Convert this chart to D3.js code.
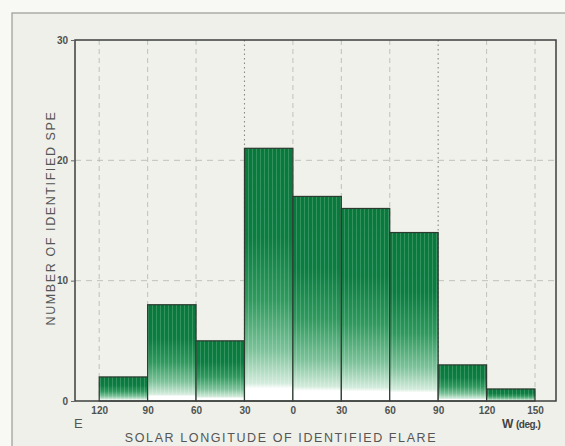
<!DOCTYPE html>
<html>
<head>
<meta charset="utf-8">
<script src="https://cdn.jsdelivr.net/npm/d3@7"></script>
<style>
  html, body { margin: 0; padding: 0; background: #f8f8f5; }
  svg { display: block; }
  text { font-family: "Liberation Sans", Arial, sans-serif; }
</style>
</head>
<body>
<svg id="chart" width="565" height="446"></svg>
<script>
// Histogram bins: solar longitude of the flare (degrees, east negative)
const binStarts = [-120, -90, -60, -30, 0, 30, 60, 90, 120];
const binWidth = 30;
const counts = [2, 8, 5, 21, 17, 16, 14, 3, 1];

// Axis ticks
const xTickValues = [-120, -90, -60, -30, 0, 30, 60, 90, 120, 150];
const xTickLabels = ["120", "90", "60", "30", "0", "30", "60", "90", "120", "150"];
const yTickValues = [0, 10, 20, 30];
const yTickLabels = ["0", "10", "20", "30"];
// Longitudes marked with the dense dotted lines
const dottedLongitudes = [-30, 90];

const svg = d3.select("#chart");
const W = 565, H = 446;
const plot = { left: 75, top: 40, right: 556, bottom: 401 };

const x = d3.scaleLinear().domain([-135, 163]).range([plot.left, plot.right]);
const y = d3.scaleLinear().domain([0, 30]).range([plot.bottom, plot.top]);

// Outer panel
svg.append("rect").attr("x", 12).attr("y", 13).attr("width", W).attr("height", H)
  .attr("fill", "#eef0e9").attr("stroke", "#9a9a96").attr("stroke-width", 1.2);

// Plot background
svg.append("rect").attr("x", plot.left).attr("y", plot.top)
  .attr("width", plot.right - plot.left).attr("height", plot.bottom - plot.top)
  .attr("fill", "#eff1ea");

// Gradient for the bars: deep green at the top fading out toward the base
const defs = svg.append("defs");
const grad = defs.append("linearGradient").attr("id", "barFill")
  .attr("x1", 0).attr("y1", 0).attr("x2", 0).attr("y2", 1);
[[0, "#07793b", 1], [0.35, "#0a7d40", 1], [0.6, "#2f9a5e", 1],
 [0.8, "#7cc39a", 1], [0.93, "#d3ecdc", 1], [0.95, "#ffffff", 1], [1, "#ffffff", 1]]
  .forEach(([o, c, a]) => grad.append("stop").attr("offset", o).attr("stop-color", c).attr("stop-opacity", a));

// Fine vertical screen texture
const pat = defs.append("pattern").attr("id", "screen").attr("patternUnits", "userSpaceOnUse")
  .attr("width", 4).attr("height", 4);
pat.append("rect").attr("x", 0).attr("y", 0).attr("width", 1).attr("height", 4)
  .attr("fill", "#ffffff").attr("opacity", 0.18);

// Grid
const grid = svg.append("g");
xTickValues.forEach(v => {
  const dotted = dottedLongitudes.includes(v);
  grid.append("line")
    .attr("x1", x(v)).attr("x2", x(v)).attr("y1", plot.top).attr("y2", plot.bottom)
    .attr("stroke", dotted ? "#8a8a86" : "#b4b6b0")
    .attr("stroke-width", dotted ? 1.1 : 0.8)
    .attr("stroke-dasharray", dotted ? "1.5,3" : "5,4");
});
[10, 20].forEach(v => {
  grid.append("line")
    .attr("x1", plot.left).attr("x2", plot.right).attr("y1", y(v)).attr("y2", y(v))
    .attr("stroke", "#b4b6b0").attr("stroke-width", 0.8).attr("stroke-dasharray", "6,5");
});

// Bars
const bars = svg.append("g");
binStarts.forEach((b, i) => {
  const rx = x(b), rw = x(b + binWidth) - x(b), ry = y(counts[i]), rh = y(0) - y(counts[i]);
  bars.append("rect").attr("x", rx).attr("y", ry).attr("width", rw).attr("height", rh)
    .attr("fill", "url(#barFill)");
  bars.append("rect").attr("x", rx).attr("y", ry).attr("width", rw).attr("height", rh)
    .attr("fill", "url(#screen)");
  bars.append("rect").attr("x", rx).attr("y", ry).attr("width", rw).attr("height", rh)
    .attr("fill", "none").attr("stroke", "#2c3a30").attr("stroke-width", 1.2);
});

// Plot frame
svg.append("rect").attr("x", plot.left).attr("y", plot.top)
  .attr("width", plot.right - plot.left).attr("height", plot.bottom - plot.top)
  .attr("fill", "none").attr("stroke", "#3c3f3c").attr("stroke-width", 1.5);

// Axes
const xAxis = d3.axisBottom(x).tickValues(xTickValues)
  .tickFormat((d, i) => xTickLabels[i]).tickSize(0).tickPadding(6);
const gx = svg.append("g").attr("transform", `translate(0,${plot.bottom})`).call(xAxis);
gx.select(".domain").remove();
gx.selectAll("text").attr("font-size", 10).attr("fill", "#505250").attr("font-weight", "bold");

const yAxis = d3.axisLeft(y).tickValues(yTickValues)
  .tickFormat((d, i) => yTickLabels[i]).tickSize(4).tickPadding(3);
const gy = svg.append("g").attr("transform", `translate(${plot.left},0)`).call(yAxis);
gy.select(".domain").remove();
gy.selectAll("line").attr("stroke", "#666");
gy.selectAll("text").attr("font-size", 10).attr("fill", "#505250").attr("font-weight", "bold");

// Direction markers
svg.append("text").attr("x", 74).attr("y", 428).attr("font-size", 13).attr("fill", "#555")
  .text("E");
svg.append("text").attr("x", 502).attr("y", 428).attr("font-size", 12).attr("fill", "#444")
  .attr("font-weight", "bold").text("W");
svg.append("text").attr("x", 516).attr("y", 428).attr("font-size", 10).attr("fill", "#444")
  .attr("font-weight", "bold").attr("letter-spacing", -0.5).text("(deg.)");

// Axis titles
svg.append("text").attr("x", 281).attr("y", 442).attr("text-anchor", "middle")
  .attr("font-size", 12.5).attr("letter-spacing", 1.6).attr("fill", "#555")
  .text("SOLAR LONGITUDE OF IDENTIFIED FLARE");
svg.append("text").attr("transform", "translate(55,218) rotate(-90)")
  .attr("text-anchor", "middle").attr("font-size", 12.5).attr("letter-spacing", 1.6)
  .attr("fill", "#555").text("NUMBER OF IDENTIFIED SPE");
</script>
</body>
</html>
